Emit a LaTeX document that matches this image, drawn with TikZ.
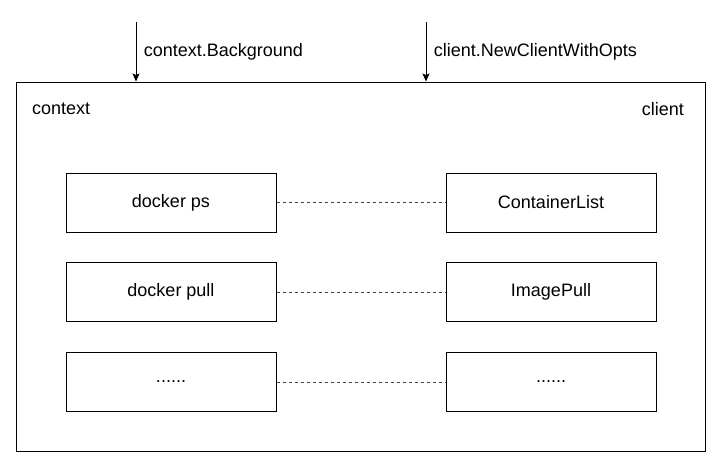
\documentclass[tikz,border=0pt]{standalone}
\usepackage{fontspec}
\setmainfont{Liberation Sans}
\usetikzlibrary{positioning,arrows.meta}
\begin{document}
\begin{tikzpicture}[x=1pt, y=-1pt,
    txt/.style={font=\fontsize{18}{22}\selectfont},
    box/.style={draw, line width=1pt, minimum width=210pt, minimum height=59pt, txt},
    link/.style={dash pattern=on 3pt off 3pt, line width=1pt, black!75},
    feed/.style={-{Stealth[length=8pt, width=7pt, inset=1.5pt]}, line width=1pt}]
  \useasboundingbox (0,0) rectangle (723,469);
  \node [draw, line width=1pt, minimum width=689pt, minimum height=369pt] (frame) at (360.5,266.5) {};
  \node [txt, anchor=west, inner sep=0pt] (ctx) at (32,109) {context};
  \node [txt, anchor=east, inner sep=0pt] (cli) at (684,109) {client};

  \coordinate (bgtop) at (136,22);
  \coordinate (newtop) at (426,22);
  \draw [feed] (bgtop) -- (bgtop |- frame.north)
    node [txt, midway, right=4pt] (bglabel) {context.Background};
  \draw [feed] (newtop) -- (newtop |- frame.north)
    node [txt, midway, right=4pt] (newlabel) {client.NewClientWithOpts};

  \node [box] (ps) at (171,202.5) {docker ps};
  \node [box] (pull) at (171,292) {docker pull};
  \node [box] (more) at (171,382) {......};
  \node [box] (list) at (551,202.5) {ContainerList};
  \node [box] (imgpull) at (551,292) {ImagePull};
  \node [box] (moreapi) at (551,382) {......};

  \draw [link] (ps) -- (list);
  \draw [link] (pull) -- (imgpull);
  \draw [link] (more) -- (moreapi);
\end{tikzpicture}
\end{document}
